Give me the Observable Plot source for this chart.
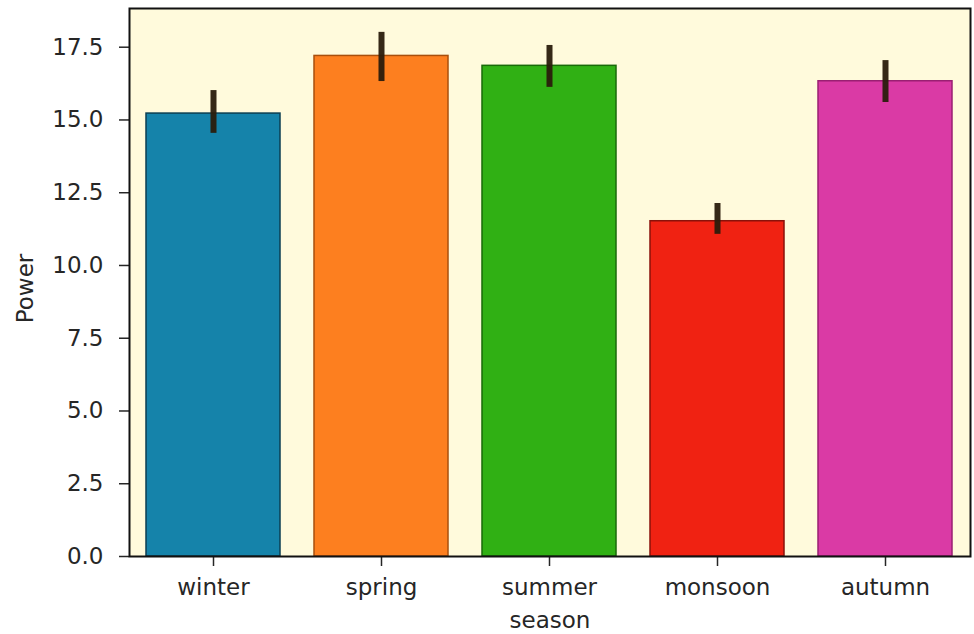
<!DOCTYPE html>
<html>
<head>
<meta charset="utf-8">
<script src="https://cdn.jsdelivr.net/npm/d3@7"></script>
<script src="https://cdn.jsdelivr.net/npm/@observablehq/plot@0.6"></script>
<style>
  html, body { margin: 0; padding: 0; background: #ffffff; }
  #chart { width: 974px; height: 634px; overflow: hidden; }
  svg { font-family: "DejaVu Sans", sans-serif; }
</style>
</head>
<body>
<div id="chart"></div>
<script>
// Mean power per season with confidence interval
const seasons = ["winter", "spring", "summer", "monsoon", "autumn"];
const power   = [15.22, 17.20, 16.86, 11.52, 16.33];
const ciLow   = [14.54, 16.32, 16.12, 11.07, 15.60];
const ciHigh  = [16.01, 18.01, 17.56, 12.13, 17.04];
const fills   = ["#1583aa", "#fd7f1f", "#30b014", "#f02212", "#da3aa5"];
const edges   = ["#0b3e52", "#a84f0c", "#186a08", "#8a120a", "#9a1f73"];
const yTicks  = [0, 2.5, 5, 7.5, 10, 12.5, 15, 17.5];

const rows = seasons.map((s, i) => ({
  season: s, power: power[i], lo: ciLow[i], hi: ciHigh[i], fill: fills[i], edge: edges[i]
}));

const FS = 23;

const chart = Plot.plot({
  width: 974,
  height: 634,
  marginLeft: 129,
  marginRight: 4,
  marginTop: 8,
  marginBottom: 78,
  style: { fontSize: FS + "px", color: "#262626", background: "#ffffff" },
  x: { domain: seasons, paddingInner: 0.2, paddingOuter: 0.1, label: null },
  y: { domain: [0, 18.83], label: null },
  marks: [
    Plot.frame({ fill: "#fffadc", stroke: null }),
    Plot.barY(rows, {
      x: "season", y: "power",
      fill: d => d.fill, stroke: d => d.edge, strokeWidth: 1.5
    }),
    Plot.ruleX(rows, {
      x: "season", y1: "lo", y2: "hi",
      stroke: "#2a1c0c", strokeWidth: 6, strokeOpacity: 0.95
    }),
    Plot.axisY(yTicks, {
      tickSize: 10, tickPadding: 16, tickFormat: d3.format(".1f"),
      stroke: "#262626", strokeWidth: 1.5, fill: "#262626", fontSize: FS
    }),
    Plot.axisX({
      tickSize: 10, tickPadding: 12, stroke: "#262626", strokeWidth: 1.5,
      fill: "#262626", fontSize: FS
    }),
    Plot.frame({ stroke: "#111111", strokeWidth: 2 }),
    Plot.text(["Power"], {
      frameAnchor: "left", textAnchor: "middle", dx: -104, dy: 6,
      rotate: -90, fontSize: FS, fill: "#262626"
    }),
    Plot.text(["season"], {
      frameAnchor: "bottom", dy: 71, fontSize: FS, fill: "#262626"
    })
  ]
});

document.getElementById("chart").appendChild(chart);
</script>
</body>
</html>
